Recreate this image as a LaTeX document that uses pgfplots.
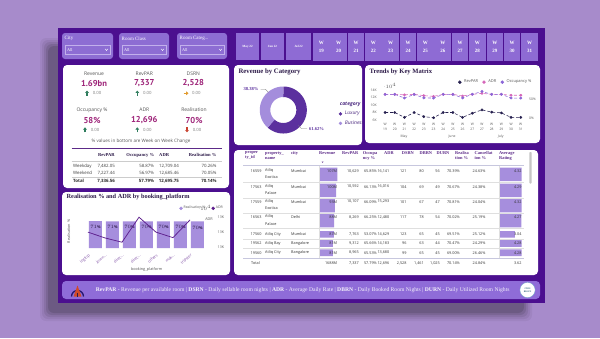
\documentclass[border=0pt]{standalone}
\usepackage{fontspec}
\setmainfont{Liberation Serif}
\newfontfamily\os{Open Sans}
\newfontfamily\pt{PT Sans}
\usepackage{pgfplots}
\pgfplotsset{compat=1.18}
\usetikzlibrary{arrows.meta}
\definecolor{bg}{HTML}{A78BCB}
\definecolor{frame}{HTML}{4B0F8F}
\definecolor{slic}{HTML}{8D6DD3}
\definecolor{slicb}{HTML}{C2B0EC}
\definecolor{btn}{HTML}{8E6BD4}
\definecolor{foot}{HTML}{8F6CD8}
\definecolor{kval}{HTML}{9E2479}
\definecolor{ttl}{HTML}{2E1C4A}
\definecolor{lux}{HTML}{5B309E}
\definecolor{bus}{HTML}{A48DDC}
\definecolor{rvp}{HTML}{26204F}
\definecolor{adr}{HTML}{D565B9}
\definecolor{occ}{HTML}{8B66D8}
\definecolor{rbar}{HTML}{A68EDD}
\definecolor{rline}{HTML}{5E1F8D}
\definecolor{thd}{HTML}{5C2A88}
\definecolor{gtxt}{HTML}{555555}
\definecolor{upc}{HTML}{2F7D5D}
\definecolor{dnc}{HTML}{C8412F}
\definecolor{ogc}{HTML}{E29B2E}
\newcommand\fs[2]{\fontsize{#1}{#2}\selectfont}
\newcommand\tdots{.\kern0pt.\kern0pt.}
\pgfplotsset{
  dotleg/.style={legend image code/.code={\path (-1.6bp,0bp) (1.6bp,0bp); \fill[##1] (0bp,0bp) circle (1.5bp);}},
}
\begin{document}
\begin{tikzpicture}[x=1bp,y=-1bp]
% background and shadow
\fill[bg] (0,0) rectangle (600,338);
\foreach \d/\o in {0/0.06,2/0.08,4/0.10,6/0.13,8/0.16} {
  \fill[black!80!bg, opacity=\o, rounded corners=6bp] (40+\d,38+\d) rectangle (532-\d,321-\d);
}
\fill[frame] (58,28) rectangle (545,303);
% slicers
\foreach \x/\w/\t in {62/51/City,119/50/Room Class,177/50/Room Categ\tdots} {
  \fill[slic, rounded corners=3bp] (\x,33) rectangle ++(\w,26);
  \node[anchor=west, text=white, font=\fs{5}{6}, inner sep=0] at (\x+2.5,38.5) {\t};
  \draw[slicb, line width=0.4bp] (\x+3,45) rectangle (\x+\w-3,54.5);
  \node[anchor=west, text=white, font=\fs{4.3}{5}, inner sep=0] at (\x+5,49.8) {All};
  \draw[white, line width=0.4bp] (\x+\w-8,48.8)--(\x+\w-6.5,50.5)--(\x+\w-5,48.8);
}
\foreach \x/\w/\t in {236/23/May 22,261/23/Jun 22,286/25/Jul 22} {
  \fill[btn] (\x,33) rectangle ++(\w,27);
  \node[text=white, font=\bfseries\fs{3.2}{4}] at (\x+\w/2,46.5) {\t};
}
\foreach \i in {0,1,2,3,4,5,6,7,8,9,10,11,12} {
  \pgfmathtruncatemacro\wk{19+\i}
  \fill[btn] ({313+17.35*\i},33) rectangle ++(16.6,28);
  \node[text=white, font=\bfseries\fs{5}{6}] at ({313+17.35*\i+8.3},42.5) {W};
  \node[text=white, font=\bfseries\fs{5}{6}] at ({313+17.35*\i+8.3},51) {\wk};
}
% panels
\fill[white, rounded corners=4bp] (63,65) rectangle (229,188);
\fill[white, rounded corners=4bp] (234,65) rectangle (362,145);
\fill[white, rounded corners=4bp] (365,65) rectangle (540,143);
\fill[white, rounded corners=4bp] (62,192) rectangle (230,275);
\fill[white, rounded corners=4bp] (234,150) rectangle (538,275);
\fill[foot, rounded corners=4bp] (62,281) rectangle (540,299);

% ---------- KPI cards
\begin{scope}[every node/.style={inner sep=0}]
\foreach \x/\y/\l/\v in {94/73.3/Revenue/1.69bn,144.3/73.3/RevPAR/{7,337},193.3/73.3/DSRN/{2,528},
                         92/110/Occupancy \%/58\%,144.3/110/ADR/{12,696},194/110/Realisation/70\%} {
  \node[font=\os\fs{5}{6}, text=gtxt] at (\x,\y) {\l};
  \node[font=\pt\bfseries\fs{8.6}{10}, text=kval] at (\x,\y+10) {\v};
  \node[font=\os\fs{4.3}{5}, text=gray] at (\x+3,\y+20) {0.00};
}
\draw[upc, line width=1.1bp, -{Triangle[length=2.3bp,width=3.6bp]}] (87,95.6)--(87,90.6);
\draw[upc, line width=1.1bp, -{Triangle[length=2.3bp,width=3.6bp]}] (137.3,95.6)--(137.3,90.6);
\draw[ogc, line width=1.1bp, -{Triangle[length=2.3bp,width=3.6bp]}] (183.5,93.3)--(188.5,93.3);
\draw[upc, line width=1.1bp, -{Triangle[length=2.3bp,width=3.6bp]}] (85,132.3)--(85,127.3);
\draw[upc, line width=1.1bp, -{Triangle[length=2.3bp,width=3.6bp]}] (137.3,132.3)--(137.3,127.3);
\draw[dnc, line width=1.1bp, -{Triangle[length=2.3bp,width=3.6bp]}] (187,127.3)--(187,132.3);
\node[font=\os\fs{4.6}{5}, text=gtxt] at (141,141.6) {\% values in bottom are Week on Week Change};
\draw[thd, line width=0.6bp] (71.5,148.3)--(221.7,148.3);
\begin{scope}[every node/.append style={font=\bfseries\fs{4.6}{5}, text=ttl}]
\node[anchor=east] at (115,155) {RevPAR};
\node[anchor=east] at (154.3,155) {Occupancy \%};
\node[anchor=west] at (159,155) {ADR};
\node[anchor=east] at (216.7,155) {Realisation \%};
\end{scope}
\draw[gray!40, line width=0.4bp] (71.5,160.7)--(221.7,160.7);
\draw[gray!40, line width=0.4bp] (71.5,177.3)--(221.7,177.3);
\begin{scope}[every node/.append style={font=\os\fs{4.4}{5}, text=black!75}]
\node[anchor=west] at (73,166.3) {Weekday};
\node[anchor=east] at (115,166.3) {7,482.05};
\node[anchor=east] at (154.3,166.3) {58.87\%};
\node[anchor=east] at (179,166.3) {12,709.04};
\node[anchor=east] at (216.7,166.3) {70.26\%};
\node[anchor=west] at (73,173.3) {Weekend};
\node[anchor=east] at (115,173.3) {7,227.44};
\node[anchor=east] at (154.3,173.3) {56.97\%};
\node[anchor=east] at (179,173.3) {12,685.46};
\node[anchor=east] at (216.7,173.3) {70.05\%};
\end{scope}
\begin{scope}[every node/.append style={font=\os\bfseries\fs{4.4}{5}, text=black!85}]
\node[anchor=west] at (73,181.3) {Total};
\node[anchor=east] at (115,181.3) {7,336.56};
\node[anchor=east] at (154.3,181.3) {57.79\%};
\node[anchor=east] at (179,181.3) {12,695.75};
\node[anchor=east] at (216.7,181.3) {70.14\%};
\end{scope}
\end{scope}

% ---------- Revenue by Category (donut)
\node[anchor=west, font=\bfseries\fs{6.8}{8}, text=ttl, inner sep=0] at (238.3,71.8) {Revenue by Category};
\begin{axis}[at={(283.3bp,-110bp)}, anchor=center, scale only axis, width=36.5bp, height=36.5bp,
  xmin=-1, xmax=1, ymin=-1, ymax=1, hide axis, clip=false, dotleg,
  legend style={draw=none, fill=none, at={(1.93,0.83)}, anchor=north west,
    font=\os\itshape\fs{5}{6}, text=lux!80!black, row sep=0.4bp,
    /tikz/every odd column/.append style={column sep=0.6bp}},
  legend cell align=left]
% Luxury 61.62 %  -> 221.83 deg ; Business 38.38 % -> 138.17 deg
\addplot[lux, line width=10.5bp, domain=0:221.83, samples=80, variable=\t, forget plot] ({cos(90-\t)},{sin(90-\t)});
\addplot[bus, line width=10.5bp, domain=221.83:360, samples=60, variable=\t, forget plot] ({cos(90-\t)},{sin(90-\t)});
\addlegendimage{empty legend}
\addlegendentry{\hspace{-5bp}\bfseries category}
\addlegendimage{lux}
\addlegendentry{Luxury}
\addlegendimage{bus}
\addlegendentry{Business}
\end{axis}
\node[font=\bfseries\fs{4.6}{5}, text=lux, inner sep=0] at (251,89.3) {38.38\%};
\draw[gray, line width=0.3bp] (260.5,89.3)--(265.5,89.3)--(268.5,92.5);
\node[font=\bfseries\fs{4.6}{5}, text=lux, inner sep=0] at (316.5,129) {61.62\%};
\draw[gray, line width=0.3bp] (298.3,125.3)--(301.5,128.8)--(307,128.8);

% ---------- Trends by Key Matrix  (15 positions: W23 and W27 split across months)
\node[anchor=west, font=\bfseries\fs{6.6}{8}, text=ttl, inner sep=0] at (369.5,72) {Trends by Key Matrix};
\begin{axis}[at={(380.2bp,-120bp)}, anchor=south west, scale only axis, width=145.4bp, height=30bp,
  xmin=0.5, xmax=15.5, ymin=6000, ymax=14000, clip=false,
  axis x line*=bottom, axis y line*=left, axis line style={draw=none}, major tick length=0,
  xtick={1,2,3,4,5,6,7,8,9,10,11,12,13,14,15},
  xticklabels={{W\\19},{W\\20},{W\\21},{W\\22},{W\\23},{W\\23},{W\\24},{W\\25},{W\\26},{W\\27},{W\\27},{W\\28},{W\\29},{W\\30},{W\\31}},
  xticklabel style={align=center, font=\os\fs{3.3}{4.4}, text=gtxt},
  ytick={6000,8000,10000,12000,14000}, yticklabels={6K,8K,10K,12K,14K},
  yticklabel style={font=\os\fs{3.4}{4}, text=gtxt}]
\addplot[rvp, densely dashed, line width=0.55bp, mark=*, mark size=1.1bp, mark options={solid}]
  coordinates {(1,8000)(2,8000)(3,6700)(4,8000)(5,6900)(6,6600)(7,8000)(8,8000)(9,6700)(10,7800)(11,8700)(12,8100)(13,7900)(14,6700)(15,6700)};
\addplot[adr, densely dashed, line width=0.55bp, mark=*, mark size=1.1bp, mark options={solid}]
  coordinates {(1,12850)(2,12850)(3,12700)(4,12850)(5,12500)(6,12300)(7,12850)(8,12850)(9,12400)(10,12850)(11,13100)(12,12850)(13,12850)(14,12600)(15,12600)};
\end{axis}
\begin{axis}[at={(380.2bp,-120bp)}, anchor=south west, scale only axis, width=145.4bp, height=30bp,
  xmin=0.5, xmax=15.5, ymin=-4.4, ymax=73.3, clip=false,
  axis x line=none, axis y line*=right, axis line style={draw=none}, major tick length=0,
  ytick={0,50}, yticklabels={0\%,50\%},
  yticklabel style={font=\os\fs{3.4}{4}, text=gtxt}, dotleg,
  legend style={draw=none, fill=none, at={(1.075,1.26)}, anchor=east,
    font=\os\fs{4}{5}, text=gtxt,
    /tikz/every odd column/.append style={column sep=0.6bp},
    /tikz/every even column/.append style={column sep=2.2bp}},
  legend columns=3]
\addlegendimage{rvp}
\addlegendentry{RevPAR}
\addlegendimage{adr}
\addlegendentry{ADR}
\addplot[occ, densely dashed, line width=0.55bp, mark=*, mark size=1.1bp, mark options={solid}, forget plot]
  coordinates {(1,61.8)(2,62.1)(3,52.5)(4,61.9)(5,52.9)(6,52.4)(7,62.0)(8,61.7)(9,52.8)(10,62.3)(11,69.5)(12,61.9)(13,62.2)(14,52.6)(15,52.3)};
\addlegendimage{occ}
\addlegendentry{Occupancy \%}
\end{axis}
\node[font=\os\fs{3.4}{4}, text=gtxt] at (404,136.8) {May};
\node[font=\os\fs{3.4}{4}, text=gtxt] at (452,136.8) {June};
\node[font=\os\fs{3.4}{4}, text=gtxt] at (500.7,136.8) {July};

% ---------- Realisation % and ADR by booking_platform
\node[anchor=west, font=\bfseries\fs{6.3}{7}, text=ttl, inner sep=0] at (66.5,197.4) {Realisation \% and ADR by booking\_platform};
\begin{axis}[at={(77.8bp,-248bp)}, anchor=south west, scale only axis, width=122.4bp, height=36bp,
  xmin=-0.6, xmax=6.6, ymin=0, ymax=95, clip=false,
  ybar, bar width=13bp, axis x line*=bottom, axis y line*=left, axis line style={draw=none},
  major tick length=0, ytick=\empty, xtick={0,1,2,3,4,5,6},
  xticklabels={logtrip,journ\tdots,direc\tdots,direc\tdots,others,mak\tdots,tripster},
  xticklabel style={rotate=40, anchor=north east, font=\os\fs{3.8}{4}, text=rline!80, yshift=-1bp},
  nodes near coords={\pgfmathprintnumber[fixed,precision=0]{\pgfplotspointmeta}\%},
  every node near coord/.append style={anchor=north, font=\os\bfseries\fs{3.9}{4}, text=ttl, yshift=-0.8bp},
  dotleg, legend style={draw=none, fill=none, at={(0.827,1.103)}, anchor=west,
    font=\os\fs{3.5}{4}, text=gtxt, inner sep=0pt, nodes={inner sep=0.4bp},
    /tikz/every odd column/.append style={column sep=0.4bp}}]
\addplot[fill=rbar, draw=none, forget plot] coordinates {(0,70.8)(1,70.6)(2,70.4)(3,70.3)(4,70.2)(5,70.1)(6,70.0)};
\addlegendimage{rbar}
\addlegendentry{Realisation \%}
\end{axis}
\begin{axis}[at={(77.8bp,-248bp)}, anchor=south west, scale only axis, width=122.4bp, height=36bp,
  xmin=-0.6, xmax=6.6, ymin=12649, ymax=12767, clip=false,
  axis x line=none, axis y line*=right, axis line style={draw=none}, major tick length=0,
  ytick={12650,12700,12750}, yticklabels={13K,13K,13K},
  yticklabel style={font=\os\fs{3.6}{4}, text=gtxt, xshift=14bp}, dotleg,
  legend style={draw=none, fill=none, at={(1.09,1.103)}, anchor=west,
    font=\os\fs{3.5}{4}, text=gtxt, inner sep=0pt, nodes={inner sep=0.4bp},
    /tikz/every odd column/.append style={column sep=0.4bp}}]
\addplot[rline, line width=0.75bp, forget plot] coordinates {(0,12701)(1,12682)(2,12668)(3,12750)(4,12701)(5,12683)(6,12741)};
\addlegendimage{rline}
\addlegendentry{ADR}
\end{axis}
\node[font=\os\fs{3.8}{4}, text=gtxt] at (209,219.3) {ADR};
\node[font=\os\fs{3.8}{4}, text=gtxt, rotate=90] at (68.6,231.5) {Realisation \%};
\node[font=\os\fs{3.8}{4}, text=gtxt] at (146.7,269.5) {booking\_platform};

% ---------- Table
% data bars
\begin{axis}[at={(319.3bp,-275bp)}, anchor=south west, scale only axis, width=18bp, height=125bp,
  xmin=0, xmax=107, ymin=150, ymax=275, y dir=reverse, hide axis, clip=false, xbar]
\addplot[fill=rbar, draw=none, bar width=13.5bp, bar shift=0pt] coordinates {(107,174.3)(100,190.3)(93,205.5)(88,220.5)};
\addplot[fill=rbar, draw=none, bar width=6.6bp, bar shift=0pt] coordinates {(87,234.4)(81,243.5)(81,252.7)};
\end{axis}
\begin{axis}[at={(499bp,-275bp)}, anchor=south west, scale only axis, width=22.7bp, height=125bp,
  xmin=0, xmax=4.32, ymin=150, ymax=275, y dir=reverse, hide axis, clip=false, xbar]
\addplot[fill=rbar, draw=none, bar width=13.5bp, bar shift=0pt] coordinates {(4.32,174.3)(4.29,190.3)(4.32,205.5)(4.27,220.5)};
\addplot[fill=rbar, draw=none, bar width=6.6bp, bar shift=0pt] coordinates {(3.04,234.4)(4.28,243.5)(4.28,252.7)};
\end{axis}
\fill[gray!45, rounded corners=0.8bp] (529.3,152) rectangle (531.6,183.5);
\draw[blue!25!gray!35, line width=0.6bp] (243,165.7)--(524,165.7);
\draw[blue!25!gray!35, line width=0.6bp] (243,258.3)--(524,258.3);
\foreach \yy in {182.3,197.7,212.7,228.3,239,247.8} {\draw[gray!25, line width=0.35bp] (243,\yy)--(524,\yy);}
\draw[gray!25, line width=0.35bp] (319.3,165.7)--(319.3,258.3);
\draw[gray!25, line width=0.35bp] (499,165.7)--(499,258.3);
\begin{scope}[every node/.style={inner sep=0, anchor=north west, align=left, font=\bfseries\fs{4.4}{4.9}, text=thd}]
\node at (245,151.7) {proper\\ty\_id};
\node at (265,151.7) {property\_\\name};
\node at (291,151.7) {city};
\node at (319,151.7) {Revenue};
\node at (342,151.7) {RevPAR};
\node at (362.7,151.7) {Occupa\\ncy \%};
\node at (384,151.7) {ADR};
\node at (401.7,151.7) {DSRN};
\node at (419.5,151.7) {DBRN};
\node at (436.5,151.7) {DURN};
\node at (455,151.7) {Realisa\\tion \%};
\node at (474.5,151.7) {Cancellat\\ion \%};
\node at (499,151.7) {Average\\Rating};
\end{scope}
\fill[thd] (321.6,161.5)--(323.6,161.5)--(322.6,162.8)--cycle;
\begin{scope}[every node/.style={inner sep=0, font=\os\fs{3.8}{5.6}, text=black!80}]
\foreach \ya/\yb/\id/\na/\nb/\ci/\rv/\rp/\oc/\ad/\ds/\db/\du/\re/\ca/\ra in {
  {171/177/16559/Atliq/Exotica/Mumbai/107M/10,629/65.85\%/16,141/121/80/56/70.39\%/24.63\%/4.32},
  {186.7/193/17563/Atliq/Palace/Mumbai/100M/10,592/66.13\%/16,016/104/69/49/70.67\%/24.38\%/4.29},
  {201.7/208/17559/Atliq/Exotica/Mumbai/93M/10,107/66.09\%/15,293/101/67/47/70.81\%/24.04\%/4.32},
  {217/224/16563/Atliq/Palace/Delhi/88M/8,269/66.25\%/12,480/117/78/54/70.02\%/25.19\%/4.27},
  {234.3/234.3/17560/Atliq City//Mumbai/87M/7,763/53.07\%/14,629/123/65/45/69.51\%/25.12\%/3.04},
  {243.6/243.6/19562/Atliq Bay//Bangalore/81M/9,312/65.66\%/14,183/96/63/44/70.47\%/24.29\%/4.28},
  {252.8/252.8/19560/Atliq City//Bangalore/81M/8,965/65.53\%/13,680/99/65/45/69.00\%/26.46\%/4.28}} {
  \node[anchor=east] at (261.7,\ya) {\id};
  \node[anchor=west] at (265,\ya) {\na};
  \node[anchor=west] at (265,\yb) {\nb};
  \node[anchor=west] at (291,\ya) {\ci};
  \node[anchor=east] at (337.3,\ya) {\rv};
  \node[anchor=east] at (359,\ya) {\rp};
  \node[anchor=east] at (377,\ya) {\oc};
  \node[anchor=east] at (389.5,\ya) {\ad};
  \node[anchor=east] at (406.7,\ya) {\ds};
  \node[anchor=east] at (424,\ya) {\db};
  \node[anchor=east] at (440,\ya) {\du};
  \node[anchor=east] at (460,\ya) {\re};
  \node[anchor=east] at (485.7,\ya) {\ca};
  \node[anchor=east] at (521.7,\ya) {\ra};
}
\node[anchor=west] at (251,263.3) {Total};
\node[anchor=east] at (337.3,263.3) {1688M};
\node[anchor=east] at (359,263.3) {7,337};
\node[anchor=east] at (377,263.3) {57.79\%};
\node[anchor=east] at (389.5,263.3) {12,696};
\node[anchor=east] at (406.7,263.3) {2,528};
\node[anchor=east] at (424,263.3) {1,461};
\node[anchor=east] at (440,263.3) {1,025};
\node[anchor=east] at (460,263.3) {70.14\%};
\node[anchor=east] at (485.7,263.3) {24.84\%};
\node[anchor=east] at (521.7,263.3) {3.62};
\end{scope}

% ---------- Footer
\draw[ttl!80!blue, line width=1.3bp] (71.5,296.5) arc[start angle=180, end angle=360, radius=6];
\fill[dnc!85!orange] (73.5,296.5)--(77.5,285.5)--(81.5,296.5)--cycle;
\fill[ttl] (76.6,296.5) rectangle (78.4,292.5);
\node[anchor=west, inner sep=0, text=white!92!foot] at (95.7,290.2) {\resizebox{413.6bp}{!}{\fs{5}{6}\textbf{RevPAR} - Revenue per available room | \textbf{DSRN} - Daily sellable room nights | \textbf{ADR} - Average Daily Rate | \textbf{DBRN} - Daily Booked Room Nights | \textbf{DURN} - Daily Utilized Room Nights}};
\fill[white] (527.5,290) circle (7.6bp);
\draw[cyan!50!gray, line width=0.3bp] (527.5,290) circle (7.6bp);
\node[font=\os\bfseries\fs{2.2}{2.5}, text=cyan!50!black, align=center, inner sep=0] at (527.5,290) {CODE\\BASICS};

\pgfresetboundingbox
\useasboundingbox (0,0) rectangle (600,338);
\end{tikzpicture}
\end{document}
